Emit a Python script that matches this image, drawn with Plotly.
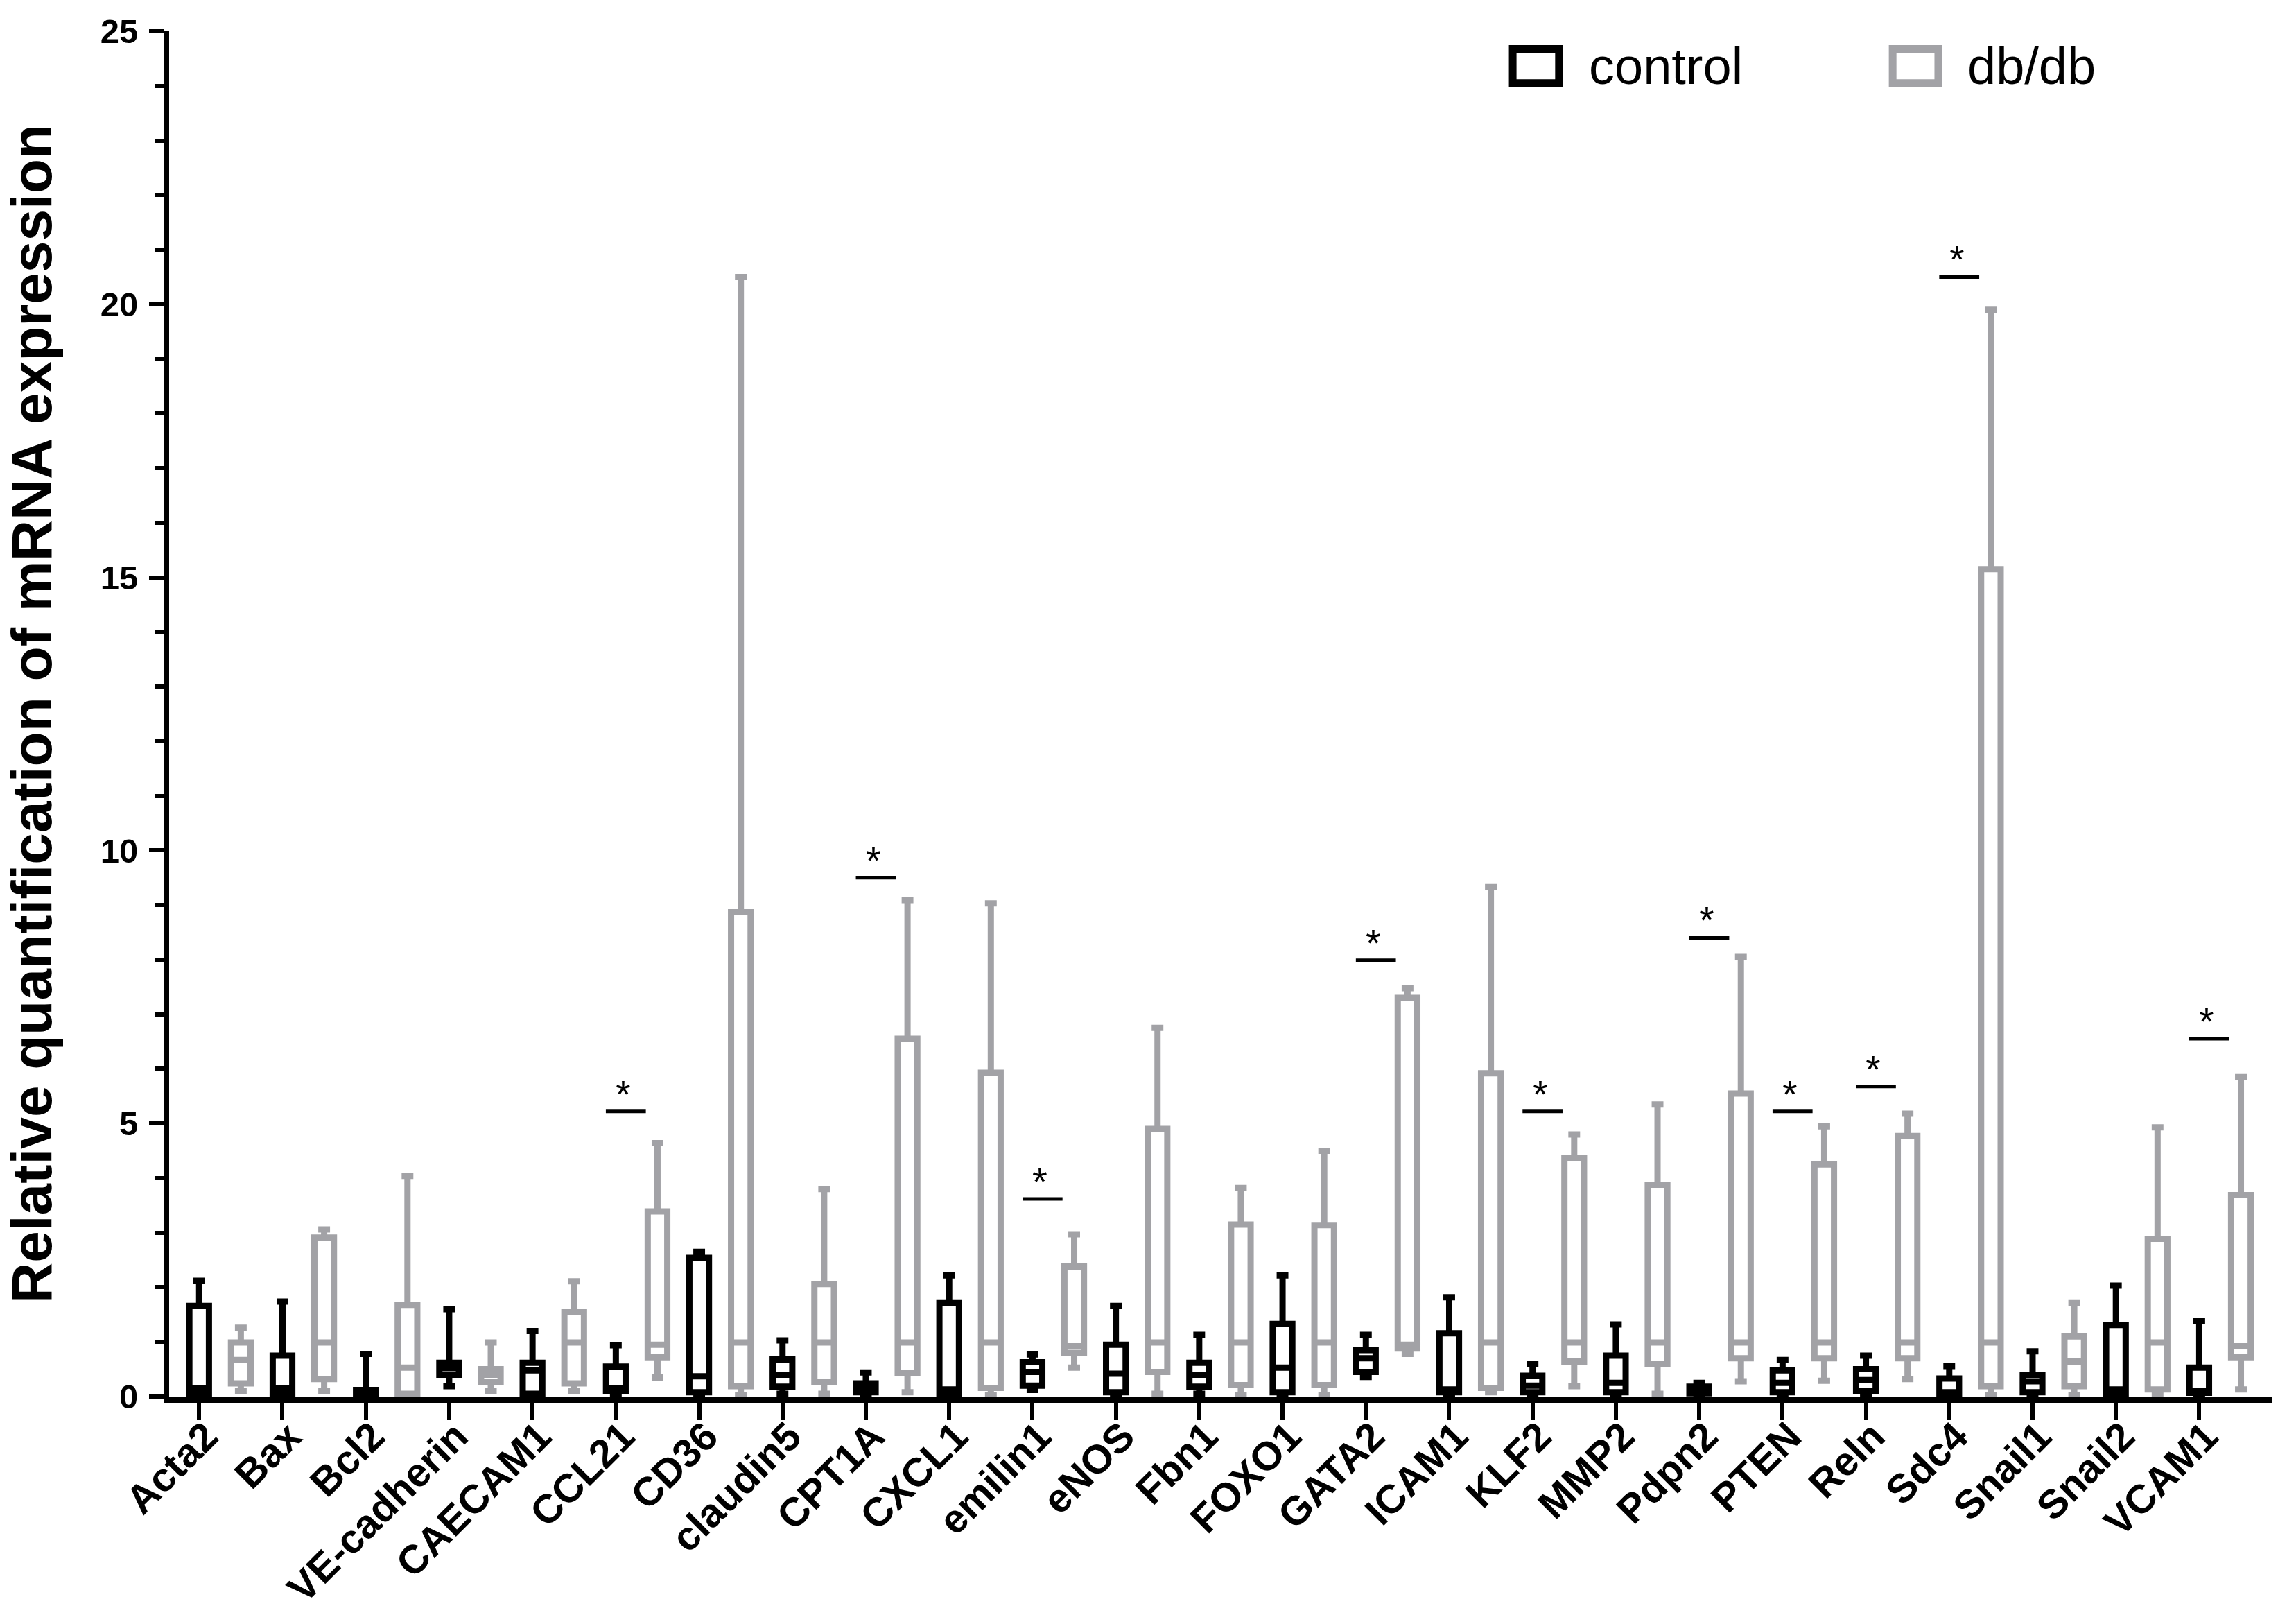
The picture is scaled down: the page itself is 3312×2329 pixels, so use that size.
import plotly.graph_objects as go

genes = ["Acta2", "Bax", "Bcl2", "VE-cadherin", "CAECAM1", "CCL21", "CD36", "claudin5",
         "CPT1A", "CXCL1", "emilin1", "eNOS", "Fbn1", "FOXO1", "GATA2", "ICAM1", "KLF2",
         "MMP2", "Pdpn2", "PTEN", "Reln", "Sdc4", "Snail1", "Snail2", "VCAM1"]

# control group box statistics
ctrl_min = [0.00, 0.00, 0.00, 0.19, 0.00, 0.00, 0.00, 0.05, 0.00, 0.00, 0.12, 0.00, 0.05,
            0.00, 0.36, 0.00, 0.00, 0.00, 0.02, 0.00, 0.00, 0.00, 0.00, 0.00, 0.00]
ctrl_q1 = [0.05, 0.05, 0.00, 0.40, 0.05, 0.10, 0.08, 0.18, 0.08, 0.05, 0.20, 0.08, 0.18,
           0.08, 0.45, 0.08, 0.08, 0.08, 0.06, 0.08, 0.10, 0.03, 0.08, 0.05, 0.07]
ctrl_med = [0.15, 0.15, 0.05, 0.52, 0.48, 0.15, 0.37, 0.40, 0.16, 0.13, 0.45, 0.42, 0.40,
            0.53, 0.70, 0.13, 0.20, 0.25, 0.12, 0.25, 0.30, 0.08, 0.28, 0.13, 0.10]
ctrl_q3 = [1.66, 0.75, 0.12, 0.62, 0.62, 0.55, 2.54, 0.68, 0.24, 1.71, 0.63, 0.95, 0.62,
           1.33, 0.85, 1.16, 0.38, 0.75, 0.18, 0.48, 0.50, 0.33, 0.40, 1.31, 0.53]
ctrl_max = [2.12, 1.74, 0.78, 1.60, 1.20, 0.94, 2.65, 1.03, 0.44, 2.22, 0.77, 1.66, 1.13,
            2.22, 1.13, 1.82, 0.60, 1.32, 0.25, 0.67, 0.75, 0.56, 0.83, 2.03, 1.39]

# db/db group box statistics
db_min = [0.10, 0.10, 0.02, 0.10, 0.10, 0.35, 0.03, 0.05, 0.08, 0.03, 0.53, 0.05, 0.03,
          0.03, 0.78, 0.08, 0.19, 0.05, 0.28, 0.29, 0.32, 0.03, 0.03, 0.03, 0.13]
db_q1 = [0.24, 0.32, 0.05, 0.27, 0.24, 0.72, 0.19, 0.27, 0.43, 0.16, 0.80, 0.45, 0.21,
         0.21, 0.88, 0.16, 0.64, 0.59, 0.70, 0.70, 0.70, 0.19, 0.19, 0.13, 0.72]
db_med = [0.67, 0.99, 0.53, 0.40, 0.99, 0.95, 0.99, 0.99, 0.99, 0.99, 0.92, 0.99, 0.99,
          0.99, 0.95, 0.99, 0.99, 0.99, 0.99, 0.99, 0.99, 0.99, 0.64, 0.99, 0.92]
db_q3 = [0.99, 2.91, 1.68, 0.50, 1.55, 3.39, 8.87, 2.06, 6.55, 5.93, 2.38, 4.90, 3.15,
         3.14, 7.30, 5.92, 4.37, 3.88, 5.55, 4.25, 4.77, 15.15, 1.10, 2.89, 3.69]
db_max = [1.26, 3.06, 4.04, 0.99, 2.11, 4.64, 20.50, 3.80, 9.09, 9.03, 2.97, 6.75, 3.82,
          4.50, 7.48, 9.33, 4.80, 5.35, 8.05, 4.95, 5.18, 19.90, 1.71, 4.93, 5.85]

# significance markers
sig_genes = ["CCL21", "CPT1A", "emilin1", "GATA2", "KLF2", "Pdpn2", "PTEN", "Reln", "Sdc4", "VCAM1"]
sig_heights = [5.22, 9.50, 3.62, 7.99, 5.22, 8.40, 5.22, 5.68, 20.50, 6.55]

y_ticks = [0, 5, 10, 15, 20, 25]

BLACK = "#000000"
GRAY = "#a2a2a6"
FONT = "Liberation Sans"

pos_ctrl = list(range(len(genes)))
pos_db = [p + 0.5 for p in pos_ctrl]

fig = go.Figure()
fig.add_trace(go.Box(
    name="control", x=pos_ctrl, q1=ctrl_q1, median=ctrl_med, q3=ctrl_q3,
    lowerfence=ctrl_min, upperfence=ctrl_max,
    line=dict(color=BLACK, width=9), fillcolor="rgba(255,255,255,0)",
    width=0.235, whiskerwidth=0.6, boxpoints=False, showlegend=False))
fig.add_trace(go.Box(
    name="db/db", x=pos_db, q1=db_q1, median=db_med, q3=db_q3,
    lowerfence=db_min, upperfence=db_max,
    line=dict(color=GRAY, width=9), fillcolor="rgba(255,255,255,0)",
    width=0.235, whiskerwidth=0.6, boxpoints=False, showlegend=False))

# significance bars and stars
for g, h in zip(sig_genes, sig_heights):
    i = genes.index(g)
    fig.add_shape(type="line", xref="x", yref="y", x0=i - 0.12, x1=i + 0.36, y0=h, y1=h,
                  line=dict(color=BLACK, width=5))
    fig.add_annotation(x=i + 0.09, y=h, xref="x", yref="y", text="*", showarrow=False,
                       yanchor="bottom", yshift=-8,
                       font=dict(family=FONT, size=56, color=BLACK))

# manual legend
legend_items = [("control", BLACK, 0.639, 0.661, 0.6746), ("db/db", GRAY, 0.8197, 0.8414, 0.8546)]
for label, col, x0, x1, xt in legend_items:
    fig.add_shape(type="rect", xref="paper", yref="paper", x0=x0, x1=x1, y0=0.962, y1=0.987,
                  line=dict(color=col, width=11), fillcolor="white")
    fig.add_annotation(x=xt, y=0.9745, xref="paper", yref="paper", text=label, showarrow=False,
                       xanchor="left", yanchor="middle",
                       font=dict(family=FONT, size=74, color=BLACK))

fig.update_layout(
    width=3312, height=2329,
    margin=dict(l=244, r=35, t=45, b=315),
    paper_bgcolor="white", plot_bgcolor="white",
    showlegend=False,
    font=dict(family=FONT, color=BLACK),
)
fig.update_xaxes(
    range=[-0.36, 24.87], tickmode="array", tickvals=pos_ctrl, ticktext=genes,
    tickangle=-45, ticks="outside", ticklen=25, tickwidth=6, tickcolor=BLACK,
    showline=True, linecolor=BLACK, linewidth=9, showgrid=False, zeroline=False,
    tickfont=dict(family=FONT, size=58, color=BLACK, weight="bold"),
    ticklabelstandoff=-34, ticklabelshift=10,
    automargin=False,
)
fig.update_yaxes(
    range=[0, 25], tickmode="array", tickvals=y_ticks,
    ticks="outside", ticklen=21, tickwidth=6, tickcolor=BLACK,
    minor=dict(dtick=1, ticks="outside", ticklen=12, tickwidth=6, tickcolor=BLACK),
    showline=True, linecolor=BLACK, linewidth=8, showgrid=False, zeroline=False,
    tickfont=dict(family=FONT, size=49, color=BLACK, weight="bold"),
    ticklabelstandoff=6,
    title=dict(text="Relative quantification of mRNA expression", standoff=50,
               font=dict(family=FONT, size=82, color=BLACK, weight="bold")),
    automargin=False,
)

fig.write_html("out.html", config={"displayModeBar": False},
               post_script="document.body.style.margin='0';")
